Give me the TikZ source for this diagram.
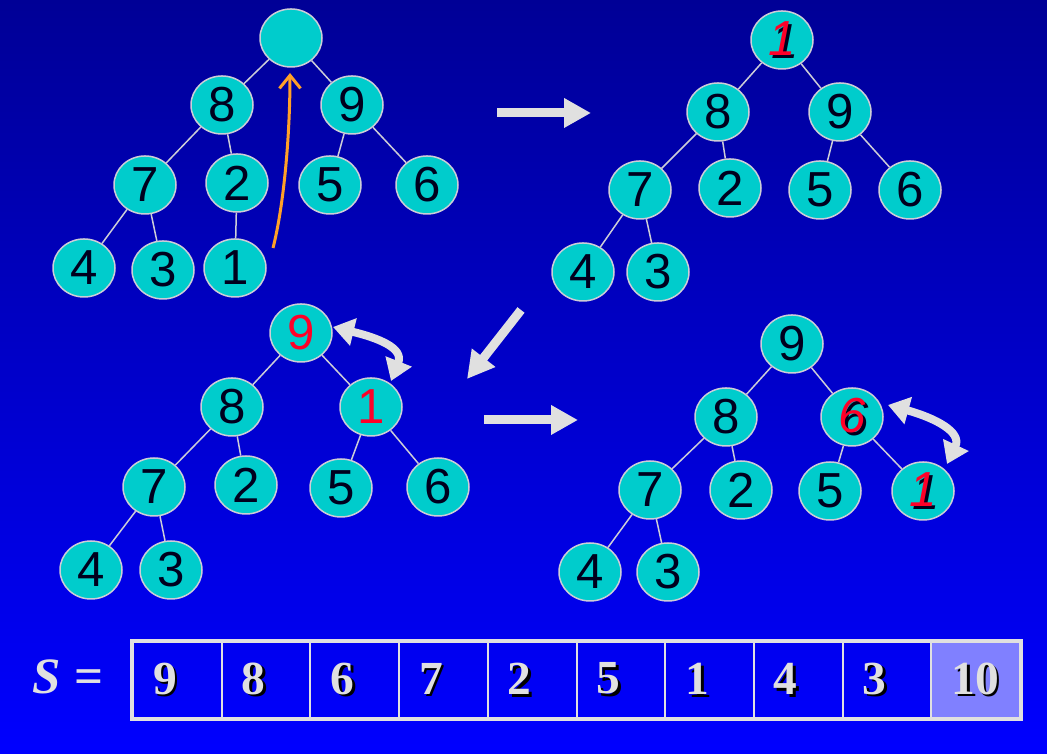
\documentclass[tikz,border=0pt]{standalone}
\usepackage{fontspec}
\setmainfont{Liberation Sans}
\newfontfamily\tnr{Liberation Serif}
\usetikzlibrary{shapes.geometric,arrows.meta}
\definecolor{bgtop}{RGB}{0,0,150}
\definecolor{bgbot}{RGB}{0,0,255}
\definecolor{nodefill}{RGB}{0,204,204}
\definecolor{rim}{RGB}{205,205,215}
\definecolor{ink}{RGB}{0,0,30}
\definecolor{hot}{RGB}{255,0,40}
\definecolor{pale}{RGB}{224,224,224}
\definecolor{orng}{RGB}{255,160,40}
\definecolor{lastcell}{RGB}{128,128,255}
\newcommand{\shd}[2]{\makebox[0pt][l]{\hspace{0.8pt}\raisebox{-0.8pt}{\color{#1}#2}}#2}
\tikzset{
  hn/.style={ellipse, fill=nodefill, draw=rim, line width=0.15mm,
    minimum width=6.2mm, minimum height=5.8mm, inner sep=0pt, text=ink,
    font=\fontsize{14}{14}\selectfont},
  hot/.style={text=hot},
  ed/.style={draw=rim, line width=0.15mm},
  barrow/.style={draw=pale, line width=0.9mm, -{Triangle[length=2.7mm,width=2.8mm]}},
  dbl/.style={draw=pale, line width=0.8mm,
    {Triangle[length=2.1mm,width=2.7mm]}-{Triangle[length=2.1mm,width=2.7mm]}},
  orarrow/.style={draw=orng, line width=0.3mm, -{Straight Barb[length=1.3mm,width=2.1mm]}},
  cell/.style={rectangle, draw=pale, line width=0.2mm, minimum width=8.87mm,
    minimum height=7.6mm, text width=4.87mm, inner xsep=2mm, inner ysep=0pt,
    align=left, text=pale, font=\tnr\bfseries\fontsize{13.5}{13.5}\selectfont},
}
\begin{document}
\begin{tikzpicture}[x=0.1mm,y=-0.1mm]
\useasboundingbox (0,0) rectangle (1047,754);
\shade[top color=bgtop, bottom color=bgbot] (0,0) rectangle (1047,754);

% ---------- Tree 1 ----------
\node[hn] (a1) at (291,38) {};
\node[hn] (a2) at (222,105) {8};
\node[hn] (a3) at (352,105) {9};
\node[hn] (a4) at (145,185) {7};
\node[hn] (a5) at (237,183) {2};
\node[hn] (a6) at (330,185) {5};
\node[hn] (a7) at (427,185) {6};
\node[hn] (a8) at (84,268) {4};
\node[hn] (a9) at (163,270) {3};
\node[hn] (a10) at (235,268) {1};
\draw[ed] (a1)--(a2) (a1)--(a3) (a2)--(a4) (a2)--(a5) (a3)--(a6) (a3)--(a7)
  (a4)--(a8) (a4)--(a9) (a5)--(a10);
\coordinate (o1) at (273,248);
\coordinate (o2) at (290,73);
\draw[orarrow] (o1) .. controls (284,205) and (290,135) .. (o2);

% ---------- Tree 2 ----------
\node[hn, hot] (b1) at (782,40) {\itshape\shd{ink}{1}};
\node[hn] (b2) at (718,112) {8};
\node[hn] (b3) at (840,112) {9};
\node[hn] (b4) at (640,190) {7};
\node[hn] (b5) at (730,188) {2};
\node[hn] (b6) at (820,190) {5};
\node[hn] (b7) at (910,190) {6};
\node[hn] (b8) at (583,272) {4};
\node[hn] (b9) at (658,272) {3};
\draw[ed] (b1)--(b2) (b1)--(b3) (b2)--(b4) (b2)--(b5) (b3)--(b6) (b3)--(b7)
  (b4)--(b8) (b4)--(b9);

% ---------- Tree 3 ----------
\node[hn, hot] (c1) at (301,333) {9};
\node[hn] (c2) at (232,407) {8};
\node[hn, hot] (c3) at (371,407) {1};
\node[hn] (c4) at (154,487) {7};
\node[hn] (c5) at (246,485) {2};
\node[hn] (c6) at (341,488) {5};
\node[hn] (c7) at (438,487) {6};
\node[hn] (c8) at (91,570) {4};
\node[hn] (c9) at (171,570) {3};
\draw[ed] (c1)--(c2) (c1)--(c3) (c2)--(c4) (c2)--(c5) (c3)--(c6) (c3)--(c7)
  (c4)--(c8) (c4)--(c9);
\coordinate (p1) at (333,327);
\coordinate (p2) at (391,381);
\draw[dbl] (p1) .. controls (378,338) and (404,348) .. (p2);

% ---------- Tree 4 ----------
\node[hn] (d1) at (792,344) {9};
\node[hn] (d2) at (726,417) {8};
\node[hn, hot] (d3) at (852,417) {\itshape\shd{ink}{6}};
\node[hn] (d4) at (650,490) {7};
\node[hn] (d5) at (741,490) {2};
\node[hn] (d6) at (830,491) {5};
\node[hn, hot] (d7) at (923,491) {\itshape\shd{ink}{1}};
\node[hn] (d8) at (590,572) {4};
\node[hn] (d9) at (668,572) {3};
\draw[ed] (d1)--(d2) (d1)--(d3) (d2)--(d4) (d2)--(d5) (d3)--(d6) (d3)--(d7)
  (d4)--(d8) (d4)--(d9);
\coordinate (q1) at (888,405);
\coordinate (q2) at (947,464);
\draw[dbl] (q1) .. controls (935,418) and (962,432) .. (q2);

% ---------- block arrows ----------
\coordinate (r1) at (497,113);
\coordinate (r2) at (591,113);
\draw[barrow] (r1) -- (r2);
\coordinate (s1) at (521,310);
\coordinate (s2) at (467,379);
\draw[barrow] (s1) -- (s2);
\coordinate (u1) at (484,420);
\coordinate (u2) at (578,420);
\draw[barrow] (u1) -- (u2);

% ---------- array ----------
\node[text=pale, font=\tnr\bfseries\fontsize{14.5}{14.5}\selectfont] (lbl) at (68,677) {\textit{S} =};
\node[cell] (k1) at (177.35,680) {\shd{black}{9}};
\node[cell] (k2) at (266.05,680) {\shd{black}{8}};
\node[cell] (k3) at (354.75,680) {\shd{black}{6}};
\node[cell] (k4) at (443.45,680) {\shd{black}{7}};
\node[cell] (k5) at (532.15,680) {\shd{black}{2}};
\node[cell] (k6) at (620.85,680) {\shd{black}{5}};
\node[cell] (k7) at (709.55,680) {\shd{black}{1}};
\node[cell] (k8) at (798.25,680) {\shd{black}{4}};
\node[cell] (k9) at (886.95,680) {\shd{black}{3}};
\node[cell, fill=lastcell] (k10) at (975.65,680) {\shd{black}{10}};
\draw[pale, line width=0.4mm] (k1.north west) rectangle (k10.south east);
\end{tikzpicture}
\end{document}
